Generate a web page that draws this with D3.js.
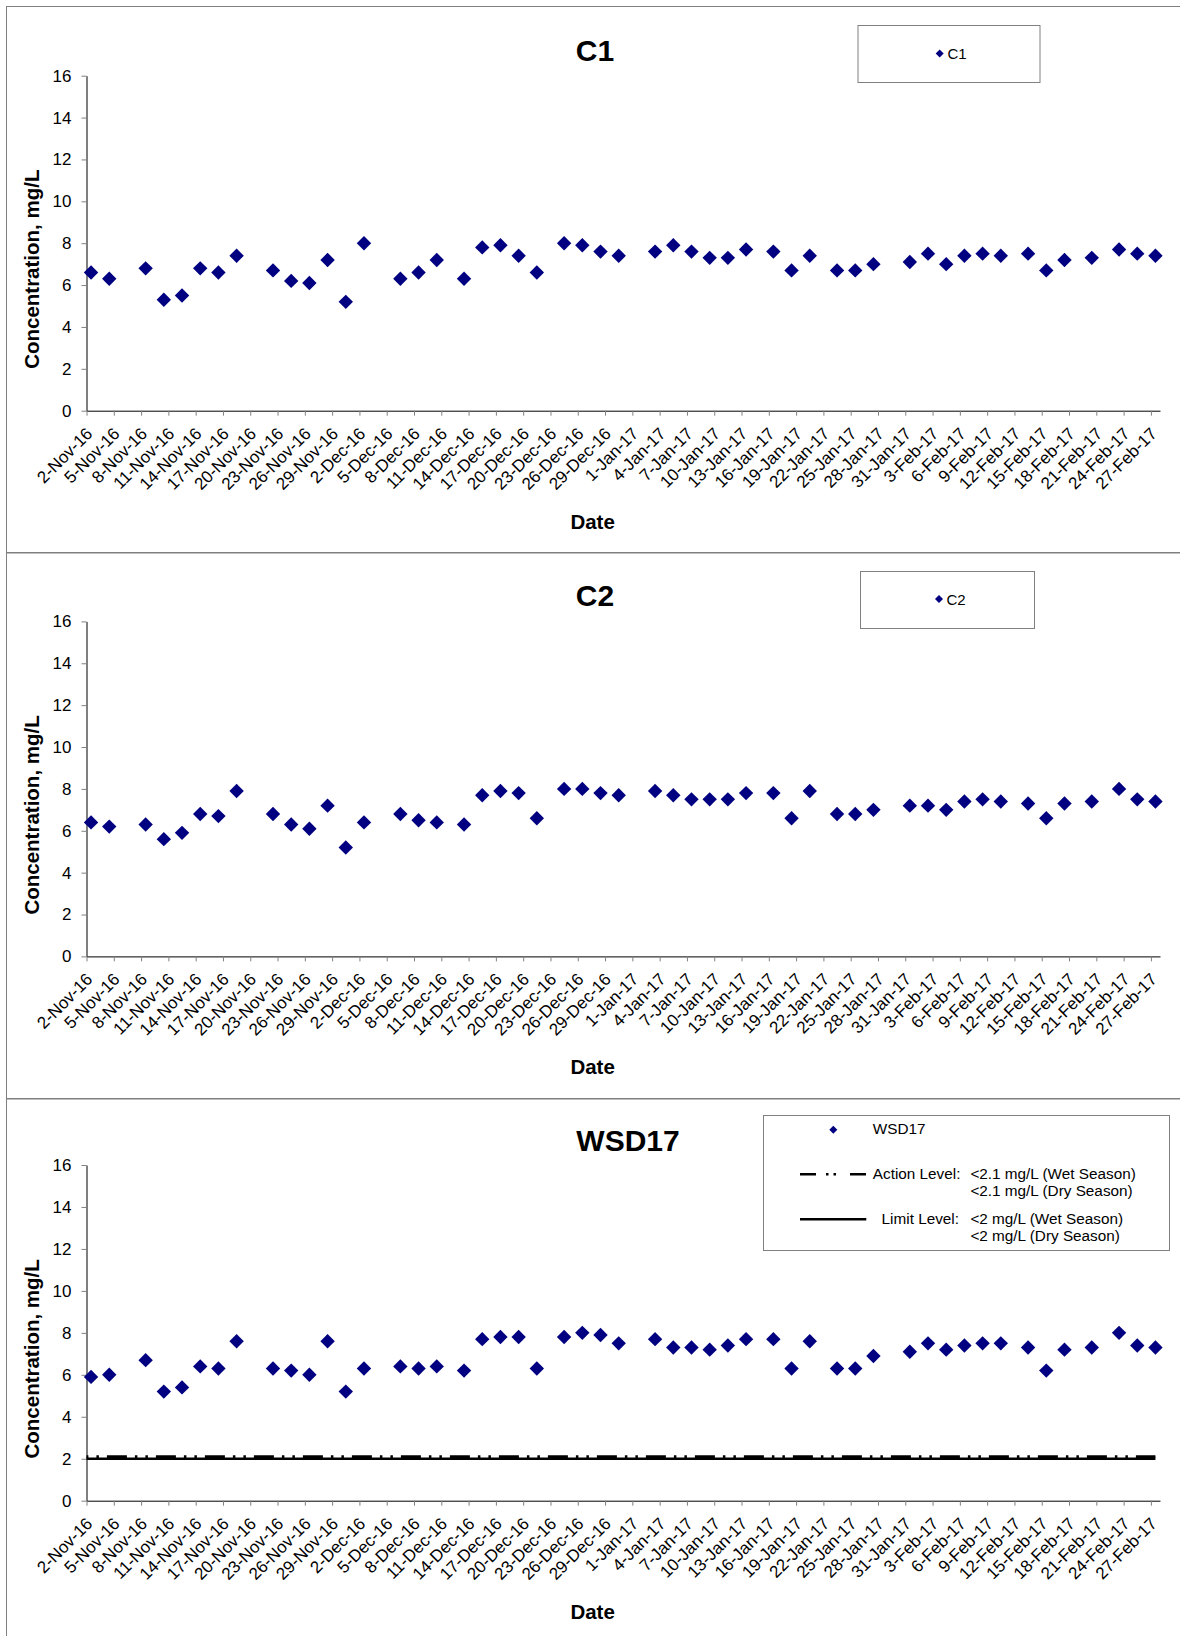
<!DOCTYPE html>
<html><head><meta charset="utf-8">
<script src="https://cdn.jsdelivr.net/npm/d3@7"></script>
<style>
body{margin:0;background:#fff;}
svg{display:block;font-family:"Liberation Sans",Arial,Helvetica,sans-serif;}
</style></head><body>
<svg id="chart" width="1180" height="1636"></svg>
<script>
// ---------------- DATA ----------------
const dates = [
 "2016-11-02","2016-11-04","2016-11-08","2016-11-10","2016-11-12","2016-11-14","2016-11-16","2016-11-18",
 "2016-11-22","2016-11-24","2016-11-26","2016-11-28","2016-11-30",
 "2016-12-02","2016-12-06","2016-12-08","2016-12-10","2016-12-13","2016-12-15","2016-12-17","2016-12-19",
 "2016-12-21","2016-12-24","2016-12-26","2016-12-28","2016-12-30",
 "2017-01-03","2017-01-05","2017-01-07","2017-01-09","2017-01-11","2017-01-13","2017-01-16","2017-01-18",
 "2017-01-20","2017-01-23","2017-01-25","2017-01-27","2017-01-31",
 "2017-02-02","2017-02-04","2017-02-06","2017-02-08","2017-02-10","2017-02-13","2017-02-15","2017-02-17",
 "2017-02-20","2017-02-23","2017-02-25","2017-02-27"
];
const c1 = [6.6,6.3,6.8,5.3,5.5,6.8,6.6,7.4,6.7,6.2,6.1,7.2,5.2,
            8.0,6.3,6.6,7.2,6.3,7.8,7.9,7.4,6.6,8.0,7.9,7.6,7.4,
            7.6,7.9,7.6,7.3,7.3,7.7,7.6,6.7,7.4,6.7,6.7,7.0,7.1,
            7.5,7.0,7.4,7.5,7.4,7.5,6.7,7.2,7.3,7.7,7.5,7.4];
const c2 = [6.4,6.2,6.3,5.6,5.9,6.8,6.7,7.9,6.8,6.3,6.1,7.2,5.2,
            6.4,6.8,6.5,6.4,6.3,7.7,7.9,7.8,6.6,8.0,8.0,7.8,7.7,
            7.9,7.7,7.5,7.5,7.5,7.8,7.8,6.6,7.9,6.8,6.8,7.0,7.2,
            7.2,7.0,7.4,7.5,7.4,7.3,6.6,7.3,7.4,8.0,7.5,7.4];
const wsd17 = [5.9,6.0,6.7,5.2,5.4,6.4,6.3,7.6,6.3,6.2,6.0,7.6,5.2,
               6.3,6.4,6.3,6.4,6.2,7.7,7.8,7.8,6.3,7.8,8.0,7.9,7.5,
               7.7,7.3,7.3,7.2,7.4,7.7,7.7,6.3,7.6,6.3,6.3,6.9,7.1,
               7.5,7.2,7.4,7.5,7.5,7.3,6.2,7.2,7.3,8.0,7.4,7.3];
const xTickLabels = [
 "2-Nov-16","5-Nov-16","8-Nov-16","11-Nov-16","14-Nov-16","17-Nov-16","20-Nov-16","23-Nov-16","26-Nov-16","29-Nov-16",
 "2-Dec-16","5-Dec-16","8-Dec-16","11-Dec-16","14-Dec-16","17-Dec-16","20-Dec-16","23-Dec-16","26-Dec-16","29-Dec-16",
 "1-Jan-17","4-Jan-17","7-Jan-17","10-Jan-17","13-Jan-17","16-Jan-17","19-Jan-17","22-Jan-17","25-Jan-17","28-Jan-17","31-Jan-17",
 "3-Feb-17","6-Feb-17","9-Feb-17","12-Feb-17","15-Feb-17","18-Feb-17","21-Feb-17","24-Feb-17","27-Feb-17"
];
const xDomain = ["2016-11-02","2017-02-28"];
const yTicks = [0,2,4,6,8,10,12,14,16];
const yDomain = [0,16];
const actionLevel = 2.1;
const limitLevel = 2;
const seriesNames = ["C1","C2","WSD17"];
const legendLines = [
  {label:"Action Level:", wet:"<2.1 mg/L (Wet Season)", dry:"<2.1 mg/L (Dry Season)"},
  {label:"Limit Level:", wet:"<2 mg/L (Wet Season)", dry:"<2 mg/L (Dry Season)"}
];

// ---------------- LAYOUT ----------------
const parseISO = d3.timeParse("%Y-%m-%d");
const parseTick = d3.timeParse("%-d-%b-%y");
const svg = d3.select("#chart");
const NAVY = "#000080";
const GREY = "#808080";
const diamond = r => `M0,${-r}L${r},0L0,${r}L${-r},0Z`;

const panels = [
  {values:c1, name:seriesNames[0], top:6, plotTop:75.7, plotBottom:410.7, titleX:595, titleY:60.7,
   legend:{x:857.5,y:25,w:182,h:57,mx:939.7,my:53.6,tx:947.4,ty:59}, limits:false},
  {values:c2, name:seriesNames[1], top:552.5, plotTop:621.4, plotBottom:956.4, titleX:595, titleY:606,
   legend:{x:860,y:571,w:174,h:57,mx:939,my:599,tx:946.5,ty:604.5}, limits:false},
  {values:wsd17, name:seriesNames[2], top:1098, plotTop:1165, plotBottom:1500.7, titleX:628, titleY:1150.6,
   legend:null, limits:true}
];

const X0 = 86.5, X1 = 1160;
const x = d3.scaleTime().domain(xDomain.map(parseISO)).range([X0, X1]);
const tickDates = xTickLabels.map(parseTick);
const ptDates = dates.map(d => d3.timeHour.offset(parseISO(d), 12));

panels.forEach(p => {
  const g = svg.append("g");
  g.append("rect").attr("x",6.5).attr("y",p.top+0.5).attr("width",1200).attr("height",546)
    .attr("fill","none").attr("stroke",GREY).attr("stroke-width",1);

  const y = d3.scaleLinear().domain(yDomain).range([p.plotBottom, p.plotTop]);

  g.append("text").attr("x",p.titleX).attr("y",p.titleY).attr("text-anchor","middle")
    .attr("font-size",30).attr("font-weight","bold").text(p.name);

  const ya = g.append("g").attr("transform",`translate(${X0},0)`)
    .call(d3.axisLeft(y).tickValues(yTicks).tickSize(5).tickSizeOuter(0).tickPadding(10));
  ya.select(".domain").attr("stroke","#000");
  ya.selectAll(".tick line").attr("stroke",GREY);
  ya.selectAll(".tick text").attr("font-size",17).attr("fill","#000")
    .attr("font-family","'Liberation Sans',Arial,sans-serif");

  const xa = g.append("g").attr("transform",`translate(0,${p.plotBottom})`)
    .call(d3.axisBottom(x).tickValues(tickDates).tickSize(5).tickSizeOuter(0).tickFormat(""));
  xa.select(".domain").attr("stroke","#000");
  xa.selectAll(".tick line").attr("stroke",GREY);
  xa.selectAll("text.lbl").data(tickDates).enter().append("text").attr("class","lbl")
    .attr("transform",(d)=>`translate(${x(d)+7},${24}) rotate(-45)`)
    .attr("text-anchor","end").attr("font-size",17).attr("fill","#000")
    .text((d,i)=>xTickLabels[i]);

  const midY = (p.plotTop + p.plotBottom)/2 + 26;
  g.append("text").attr("transform",`translate(39,${midY}) rotate(-90)`).attr("text-anchor","middle")
    .attr("font-size",20.5).attr("font-weight","bold").text("Concentration, mg/L");
  g.append("text").attr("x",592.6).attr("y",p.plotBottom+117.9).attr("text-anchor","middle")
    .attr("font-size",20.5).attr("font-weight","bold").text("Date");

  if (p.limits) {
    const lx = [x.domain()[0], ptDates[ptDates.length-1]];
    const line = lvl => d3.line().x(d=>x(d)).y(()=>y(lvl));
    g.append("path").attr("d",line(limitLevel)(lx)).attr("stroke","#000").attr("stroke-width",2.6).attr("fill","none");
    g.append("path").attr("d",line(actionLevel)(lx)).attr("stroke","#000").attr("stroke-width",2.6).attr("fill","none")
      .attr("stroke-dasharray","20,8,2.5,8,2.5,8").attr("stroke-dashoffset",28.6);
  }

  g.selectAll("path.pt").data(p.values).enter().append("path").attr("class","pt")
    .attr("d",diamond(7.2)).attr("fill",NAVY)
    .attr("transform",(d,i)=>`translate(${x(ptDates[i])},${y(d)})`);

  if (p.legend) {
    const L = p.legend;
    g.append("rect").attr("x",L.x+0.5).attr("y",L.y+0.5).attr("width",L.w).attr("height",L.h)
      .attr("fill","#fff").attr("stroke",GREY);
    g.append("path").attr("d",diamond(4)).attr("fill",NAVY).attr("transform",`translate(${L.mx},${L.my})`);
    g.append("text").attr("x",L.tx).attr("y",L.ty).attr("font-size",15).text(p.name);
  } else {
    const lg = g.append("g");
    lg.append("rect").attr("x",763.5).attr("y",1115.5).attr("width",406).attr("height",135)
      .attr("fill","#fff").attr("stroke",GREY);
    lg.append("path").attr("d",diamond(4)).attr("fill",NAVY).attr("transform","translate(833.3,1129.7)");
    lg.append("text").attr("x",872.8).attr("y",1134).attr("font-size",15.3).text(p.name);
    const rows = [{ly:1174.2, lx:872.8, b1:1179.3, b2:1196.4, dash:"16,10,2.5,5,2.5,14,16,100"},
                  {ly:1219.3, lx:881.6, b1:1223.8, b2:1241.2, dash:null}];
    rows.forEach((r,i) => {
      const ln = lg.append("line").attr("x1",800).attr("x2",866.3).attr("y1",r.ly).attr("y2",r.ly)
        .attr("stroke","#000").attr("stroke-width",2.6);
      if (r.dash) ln.attr("stroke-dasharray",r.dash);
      lg.append("text").attr("x",r.lx).attr("y",r.b1).attr("font-size",15.3).text(legendLines[i].label);
      lg.append("text").attr("x",970.4).attr("y",r.b1).attr("font-size",15.3).text(legendLines[i].wet);
      lg.append("text").attr("x",970.4).attr("y",r.b2).attr("font-size",15.3).text(legendLines[i].dry);
    });
  }
});
</script>
</body></html>
